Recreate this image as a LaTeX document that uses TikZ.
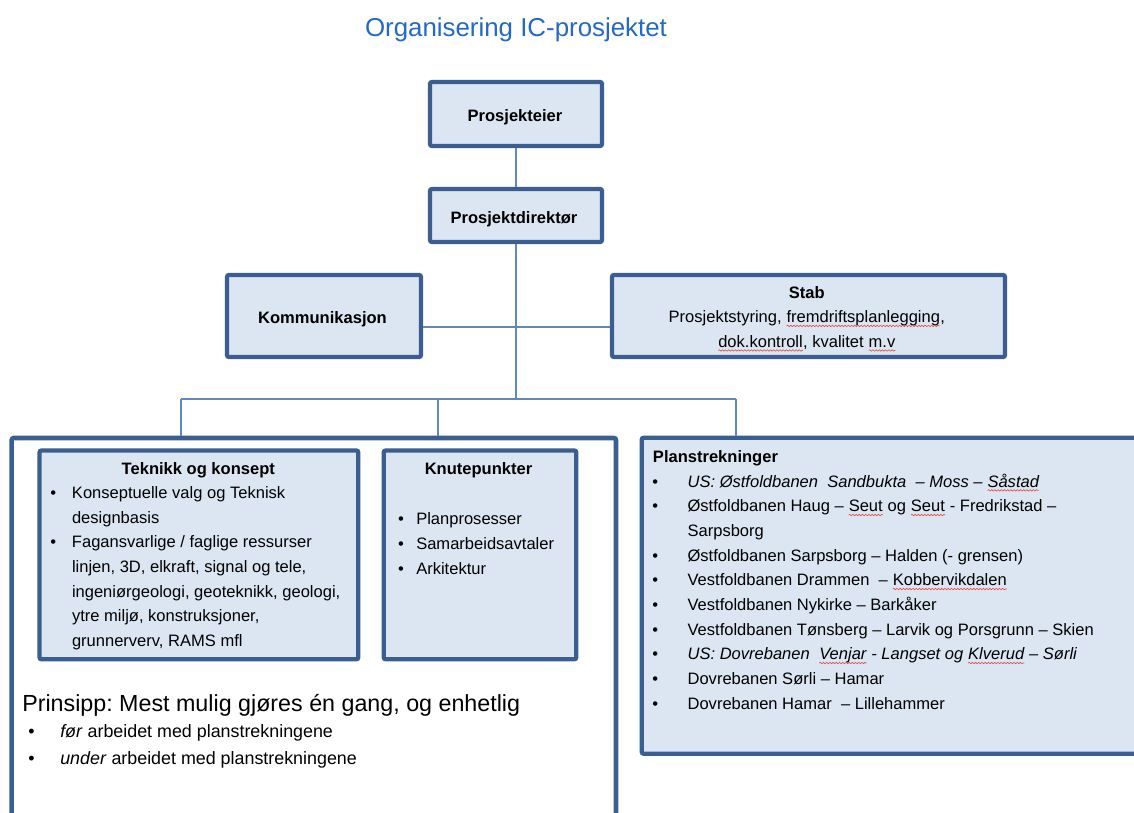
\documentclass[tikz,border=0pt]{standalone}
\usepackage{fontspec}
\setmainfont{Liberation Sans}
\usetikzlibrary{calc,decorations.pathmorphing}
\frenchspacing

\definecolor{boxline}{RGB}{58,94,143}
\definecolor{boxfill}{RGB}{220,230,242}
\definecolor{wirecol}{RGB}{95,136,196}
\definecolor{titleblue}{RGB}{35,105,200}
\definecolor{spellred}{RGB}{232,70,70}

% word with a red wavy underline (spell-check mark)
\newcommand\spell[1]{\tikz[baseline=(sw.base), x=1pt, y=1pt]{%
  \node[inner sep=0pt, outer sep=0pt, anchor=base, align=center, minimum width=0pt, minimum height=0pt] (sw) {#1};
  \draw[spellred, line width=0.45pt, decorate,
        decoration={snake, amplitude=0.55pt, segment length=2.4pt}]
    ([yshift=-2.3pt]sw.base west) -- ([yshift=-2.3pt]sw.base east);}}

% bullet in a box of given width, and matching indent for continuation lines
\newcommand\bul[1]{\makebox[#1][l]{\textbullet}}
\newcommand\ind[1]{\hspace*{#1}}

% multi-line nodes are anchored at the baseline of their last line
\tikzset{
  orgbox/.style={draw=boxline, line width=3.2pt, fill=boxfill, rounded corners=1.5pt, inner sep=0pt},
  outerbox/.style={draw=boxline, line width=3.4pt, fill=white, rounded corners=1.5pt, inner sep=0pt},
  wire/.style={draw=wirecol, line width=1.1pt},
  lbl/.style={inner sep=0pt, anchor=base, align=center, font=\fontsize{12.4}{18.4}\selectfont\bfseries},
  body/.style={inner sep=0pt, anchor=base west, align=left, font=\fontsize{12.4}{18.5}\selectfont},
}

\begin{document}
\begin{tikzpicture}[x=0.75pt, y=-0.75pt]
\useasboundingbox (0,0) rectangle (1134,813);
\clip (0,0) rectangle (1134,813);

% title
\node[inner sep=0pt, anchor=base, text=titleblue, font=\fontsize{19.4}{23}\selectfont] (title) at (516,37) {Organisering IC-prosjektet};

% boxes
\node[orgbox, minimum width=129pt, minimum height=48pt] (eier) at (516,114) {};
\node[orgbox, minimum width=129pt, minimum height=39.75pt] (direktor) at (516,215.5) {};
\node[orgbox, minimum width=145.5pt, minimum height=61.5pt] (komm) at (324,316) {};
\node[orgbox, minimum width=294.75pt, minimum height=61.5pt] (stab) at (808.5,316) {};
\node[outerbox, minimum width=453.2pt, minimum height=301.5pt] (big) at (313.85,639) {};
\node[orgbox, minimum width=239.1pt, minimum height=156.6pt] (teknikk) at (198.9,554.9) {};
\node[orgbox, minimum width=144.45pt, minimum height=156.6pt] (knute) at (480,554.9) {};
\node[orgbox, minimum width=388.7pt, minimum height=237pt] (plan) at (900.85,595.7) {};

% connectors
\coordinate (hub) at (516,399);
\coordinate (mid) at (516,327);
\coordinate (busL) at (181,399);
\coordinate (busM) at (438,399);
\coordinate (busR) at (736,399);
\draw[wire] (eier.south) -- (direktor.north);
\draw[wire] (direktor.south) -- (hub);
\draw[wire] (komm.east |- mid) -- (stab.west |- mid);
\draw[wire] (busL) -- (busR);
\draw[wire] (busL) -- (busL |- big.north);
\draw[wire] (busM) -- (busM |- big.north);
\draw[wire] (busR) -- (busR |- plan.north);

% box labels
\node[lbl] (tEier) at (515,121.7) {Prosjekteier};
\node[lbl] (tDir) at (514,223.3) {Prosjektdirektør};
\node[lbl] (tKomm) at (322.5,323.3) {Kommunikasjon};
\node[lbl, font=\fontsize{12.4}{18.4}\selectfont] (tStab) at (806.8,347.4)
  {\textbf{Stab}\\Prosjektstyring, \spell{fremdriftsplanlegging},\\\spell{dok.kontroll}, kvalitet \spell{m.v}};

\node[lbl] (tTek) at (198.3,474) {Teknikk og konsept};
\node[body] (lTek) at (50,646.5)
  {\bul{16.3pt}Konseptuelle valg og Teknisk\\
   \ind{16.3pt}designbasis\\
   \bul{16.3pt}Fagansvarlige / faglige ressurser\\
   \ind{16.3pt}linjen, 3D, elkraft, signal og tele,\\
   \ind{16.3pt}ingeniørgeologi, geoteknikk, geologi,\\
   \ind{16.3pt}ytre miljø, konstruksjoner,\\
   \ind{16.3pt}grunnerverv, RAMS mfl};

\node[lbl] (tKnute) at (478.5,474) {Knutepunkter};
\node[body] (lKnute) at (397.8,574.3)
  {\bul{13.65pt}Planprosesser\\
   \bul{13.65pt}Samarbeidsavtaler\\
   \bul{13.65pt}Arkitektur};

\node[lbl, anchor=base west] (tPlan) at (652.7,462.7) {Planstrekninger};
\node[body] (lPlan) at (652,709.3)
  {\bul{26.5pt}\textit{US: Østfoldbanen\ \ Sandbukta\ \ – Moss – \spell{Såstad}}\\
   \bul{26.5pt}Østfoldbanen Haug – \spell{Seut} og \spell{Seut} - Fredrikstad –\\
   \ind{26.5pt}Sarpsborg\\
   \bul{26.5pt}Østfoldbanen Sarpsborg – Halden (- grensen)\\
   \bul{26.5pt}Vestfoldbanen Drammen\ \ – \spell{Kobbervikdalen}\\
   \bul{26.5pt}Vestfoldbanen Nykirke – Barkåker\\
   \bul{26.5pt}Vestfoldbanen Tønsberg – Larvik og Porsgrunn – Skien\\
   \bul{26.5pt}\textit{US: Dovrebanen\ \ \spell{Venjar} - Langset og \spell{Klverud} – Sørli}\\
   \bul{26.5pt}Dovrebanen Sørli – Hamar\\
   \bul{26.5pt}Dovrebanen Hamar\ \ – Lillehammer};

% principle
\node[body, font=\fontsize{17.45}{21}\selectfont] (prinsipp) at (22,711.7)
  {Prinsipp: Mest mulig gjøres én gang, og enhetlig};
\node[body, font=\fontsize{13.4}{20.25}\selectfont] (lPrinsipp) at (28,764.3)
  {\bul{24pt}\textit{før} arbeidet med planstrekningene\\
   \bul{24pt}\textit{under} arbeidet med planstrekningene};
\end{tikzpicture}
\end{document}
